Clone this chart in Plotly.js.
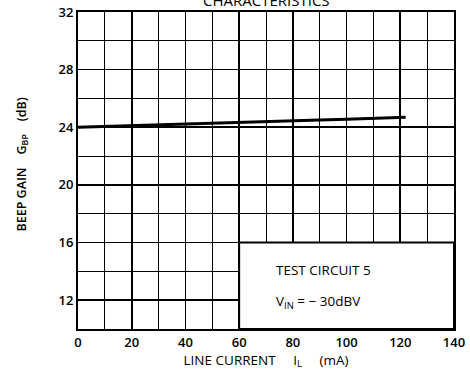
<!DOCTYPE html>
<html>
<head>
<meta charset="utf-8">
<script src="https://cdn.plot.ly/plotly-3.0.1.min.js"></script>
<style>html,body{margin:0;padding:0;background:#fff;}#chart{width:470px;height:379px;}</style>
</head>
<body>
<div id="chart"></div>
<script>
const lineCurrent = [0, 10, 20, 30, 40, 50, 60, 70, 80, 90, 100, 110, 122];
const beepGain = [24.0, 24.05, 24.1, 24.15, 24.2, 24.25, 24.3, 24.37, 24.43, 24.5, 24.56, 24.62, 24.7];
const xTicks = [0, 20, 40, 60, 80, 100, 120, 140];
const yTicks = [12, 16, 20, 24, 28, 32];
const insetX = [60, 140];
const insetY = [10, 16];

const font = 'Open Sans, DejaVu Sans, sans-serif';

const data = [{
  x: lineCurrent, y: beepGain, type: 'scatter', mode: 'lines',
  line: {color: '#000', width: 3}, hoverinfo: 'skip'
}];

const layout = {
  width: 470, height: 379,
  margin: {l: 78, r: 16, t: 12, b: 50},
  paper_bgcolor: '#fff', plot_bgcolor: '#fff',
  showlegend: false,
  font: {family: font, color: '#000', size: 12},
  xaxis: {
    range: [0, 140], tickvals: xTicks, ticktext: xTicks.map(String),
    showgrid: true, gridcolor: '#000', gridwidth: 1.6,
    minor: {dtick: 10, showgrid: true, gridcolor: '#000', gridwidth: 1},
    showline: true, linecolor: '#000', linewidth: 2, mirror: true,
    zeroline: false, ticks: '', ticklen: 0,
    tickfont: {family: font, size: 13, color: '#000', weight: 600},
    title: {text: 'LINE CURRENT     I<sub>L</sub>     (mA)', font: {family: font, size: 13.5, color: '#000'}, standoff: 5}
  },
  yaxis: {
    range: [10, 32], tickvals: yTicks, ticktext: yTicks.map(String),
    showgrid: true, gridcolor: '#000', gridwidth: 1.6,
    minor: {dtick: 2, showgrid: true, gridcolor: '#000', gridwidth: 1},
    showline: true, linecolor: '#000', linewidth: 2, mirror: true,
    zeroline: false, ticks: '', ticklen: 0,
    tickfont: {family: font, size: 13, color: '#000', weight: 600}
  },
  shapes: [{
    type: 'rect', xref: 'x', yref: 'y', layer: 'above',
    x0: insetX[0], x1: insetX[1], y0: insetY[0], y1: insetY[1],
    fillcolor: '#fff', line: {color: '#000', width: 2}
  }],
  annotations: [
    {text: 'CHARACTERISTICS', xref: 'paper', yref: 'paper', x: 0.5, y: 1, yshift: 0,
     showarrow: false, font: {family: font, size: 15, color: '#000'}, xanchor: 'center', yanchor: 'bottom'},
    {text: 'BEEP GAIN    G<sub>BP</sub>    (dB)', xref: 'paper', yref: 'paper', x: 0, y: 0.5, xshift: -56, yshift: 6,
     xanchor: 'center', yanchor: 'middle',
     textangle: -90, showarrow: false, font: {family: font, size: 12.5, color: '#000', weight: 600}},
    {text: 'TEST CIRCUIT 5', xref: 'x', yref: 'y', x: 73, y: 14.1, xanchor: 'left',
     showarrow: false, font: {family: font, size: 13.5, color: '#000'}},
    {text: 'V<sub>IN</sub> = − 30dBV', xref: 'x', yref: 'y', x: 73, y: 11.9, xanchor: 'left',
     showarrow: false, font: {family: font, size: 13.5, color: '#000'}}
  ]
};

Plotly.newPlot('chart', data, layout, {displayModeBar: false, staticPlot: true});
</script>
</body>
</html>
